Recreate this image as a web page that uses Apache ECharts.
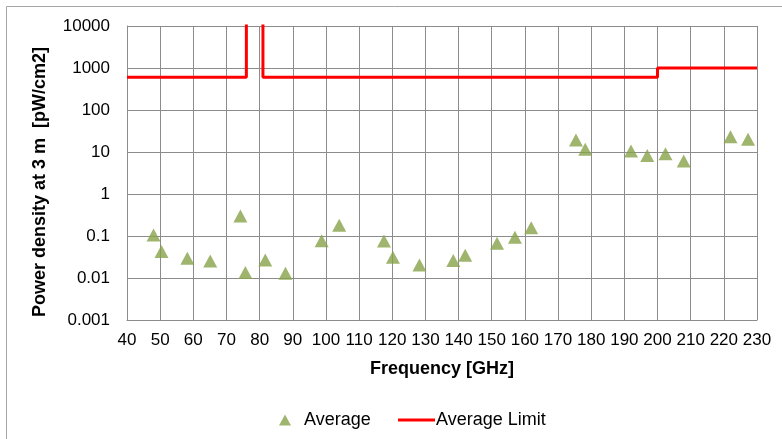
<!DOCTYPE html>
<html>
<head>
<meta charset="utf-8">
<title>Power density</title>
<script src="https://cdn.jsdelivr.net/npm/echarts@6/dist/echarts.min.js"></script>
<style>
  html, body { margin: 0; padding: 0; background: #fff; }
  #main { width: 782px; height: 439px; }
</style>
</head>
<body>
<div id="main"></div>
<script>
// 测量数据 (Average)
const avgFreq = [48, 50.4, 58.2, 65.1, 74.2, 75.7, 81.7, 87.8, 98.7, 104, 117.5, 120.2, 128.2,
  138.4, 142, 151.6, 157, 161.9, 175.4, 178.2, 192, 196.9, 202.4, 207.9, 222, 227.3]
const avgValue = [0.105, 0.043, 0.0295, 0.0254, 0.30, 0.0136, 0.027, 0.0129, 0.077, 0.18, 0.076, 0.031, 0.0204,
  0.026, 0.035, 0.067, 0.093, 0.158, 19.3, 11.6, 10.6, 8.2, 9.1, 6.1, 23.1, 20]

// 限值阶梯线 (Average Limit)
const limitFreq = [40, 76, 76, 81, 81, 200, 200, 230]
const limitValue = [600, 600, 100000, 100000, 600, 600, 1000, 1000]

const xTicks = { min: 40, max: 230, interval: 10 }
const yTicks = { min: 0.001, max: 10000 }

const avgData = avgFreq.map((f, i) => [f, avgValue[i]])
const limitData = limitFreq.map((f, i) => [f, limitValue[i]])

const chart = echarts.init(document.getElementById('main'))
const font = 'Liberation Sans, Arial, sans-serif'

const option = {
  animation: false,
  textStyle: { fontFamily: font, color: '#000' },
  grid: { left: 127, top: 26, width: 630, height: 294 },
  // 外框
  graphic: [
    { type: 'line', shape: { x1: 6.5, y1: 6.5, x2: 782, y2: 6.5 }, style: { stroke: '#a6a6a6', lineWidth: 1 } },
    { type: 'line', shape: { x1: 6.5, y1: 6.5, x2: 6.5, y2: 439 }, style: { stroke: '#a6a6a6', lineWidth: 1 } }
  ],
  legend: [
    {
      data: ['Average'],
      left: 274,
      top: 406,
      itemWidth: 12,
      itemHeight: 11,
      textStyle: { fontSize: 18, fontFamily: font, color: '#000', padding: [0, 0, 0, 8] }
    },
    {
      data: [{ name: 'Average Limit', icon: 'rect' }],
      left: 393,
      top: 406,
      itemWidth: 37,
      itemHeight: 3,
      textStyle: { fontSize: 18, fontFamily: font, color: '#000', padding: [0, 0, 0, -4] }
    }
  ],
  xAxis: {
    type: 'value',
    min: xTicks.min,
    max: xTicks.max,
    interval: xTicks.interval,
    name: 'Frequency [GHz]',
    nameLocation: 'middle',
    nameGap: 40,
    nameTextStyle: { fontSize: 18, fontWeight: 'bold', fontFamily: font, color: '#000' },
    axisLine: { show: true, lineStyle: { color: '#8c8c8c', width: 1 } },
    axisTick: { show: false },
    axisLabel: { fontSize: 17, margin: 12, color: '#000', fontFamily: font },
    splitLine: { show: true, lineStyle: { color: '#8c8c8c', width: 1 } }
  },
  yAxis: {
    type: 'log',
    logBase: 10,
    min: yTicks.min,
    max: yTicks.max,
    name: 'Power density at 3 m  [pW/cm2]',
    nameLocation: 'middle',
    nameGap: 78,
    nameTextStyle: { fontSize: 18, fontWeight: 'bold', fontFamily: font, color: '#000', padding: [0, 18, 0, 0] },
    axisLine: { show: true, lineStyle: { color: '#8c8c8c', width: 1 } },
    axisTick: { show: false },
    axisLabel: {
      fontSize: 17,
      margin: 17,
      color: '#000',
      fontFamily: font,
      formatter: v => String(Number(v.toPrecision(6)))
    },
    splitLine: { show: true, lineStyle: { color: '#8c8c8c', width: 1 } }
  },
  series: [
    {
      name: 'Average Limit',
      type: 'line',
      data: limitData,
      showSymbol: false,
      clip: true,
      lineStyle: { color: '#ff0000', width: 3 },
      itemStyle: { color: '#ff0000' },
      z: 3
    },
    {
      name: 'Average',
      type: 'scatter',
      data: avgData,
      symbol: 'triangle',
      symbolSize: [14, 13],
      itemStyle: { color: '#87a24a' },
      z: 4
    }
  ]
}

chart.setOption(option)
</script>
</body>
</html>
